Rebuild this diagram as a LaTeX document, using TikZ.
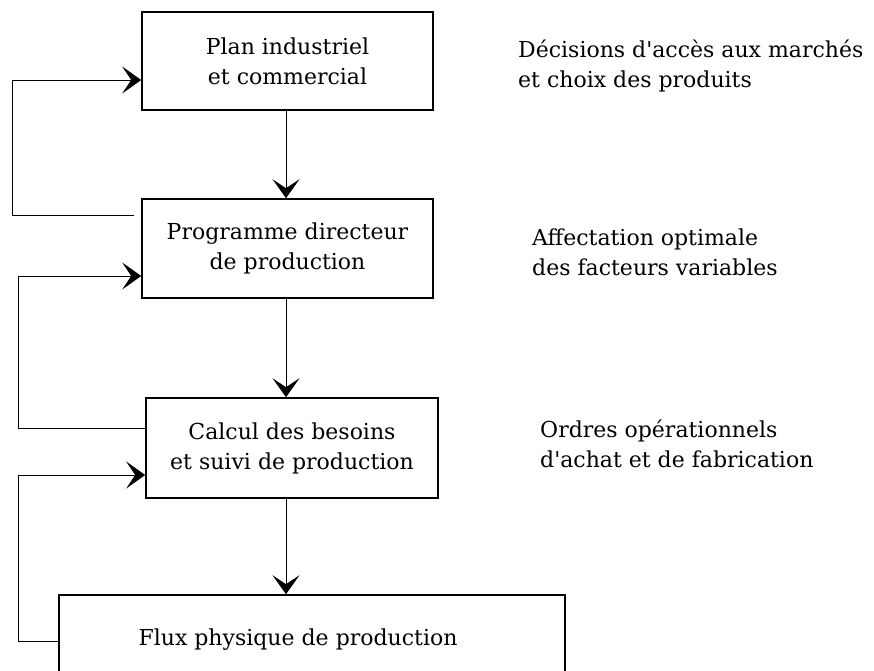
\documentclass[tikz,border=0pt]{standalone}
\usepackage{fontspec}
\setmainfont{DejaVu Serif}[Ligatures=TeXOff]
\usetikzlibrary{arrows.meta}
\begin{document}
\begin{tikzpicture}[x=1pt,y=-1pt,
  txt/.style={font=\fontsize{22}{30}\selectfont},
  box/.style={draw,line width=1.6pt,align=center,inner sep=0pt,txt},
  conn/.style={line width=1pt},
  arr/.style={conn,-{Stealth[length=19pt,width=27pt,inset=9pt]}},
  note/.style={align=left,anchor=base west,inner sep=0pt,txt}]
\useasboundingbox (0,0) rectangle (874,670);
\clip (0,0) rectangle (874,670);
\coordinate (axis) at (286,0);
\coordinate (fbA) at (12,0);
\coordinate (fbB) at (18,0);
\node[box,minimum width=291pt,minimum height=98pt] (b1) at (287.5,61) {Plan industriel\\et commercial};
\node[box,minimum width=291pt,minimum height=99pt] (b2) at (287.5,248.5) {Programme directeur\\de production};
\node[box,minimum width=292pt,minimum height=100pt] (b3) at (292,448) {Calcul des besoins\\et suivi de production};
\node[box,minimum width=506pt,minimum height=90pt] (b4) at (312,640) {\hspace*{-28pt}Flux physique de production};
% right notes (base anchor = last line baseline)
\node[note] (n1) at (518,87) {Décisions d'accès aux marchés\\et choix des produits};
\node[note] (n2) at (532,275) {Affectation optimale\\des facteurs variables};
\node[note] (n3) at (540,467) {Ordres opérationnels\\d'achat et de fabrication};
% main flow
\draw[arr] (b1.south -| axis) -- (b2.north -| axis);
\draw[arr] (b2.south -| axis) -- (b3.north -| axis);
\draw[arr] (b3.south -| axis) -- (b4.north -| axis);
% feedback loops
\draw[arr] ([xshift=-7pt]b2.west |- 0,215) -- (fbA |- 0,215) -- (fbA |- 0,80) -- (b1.west |- 0,80);
\draw[arr] (b3.west |- 0,428) -- (fbB |- 0,428) -- (fbB |- 0,276) -- (b2.west |- 0,276);
\draw[arr] (b4.west |- 0,641) -- (fbB |- 0,641) -- (fbB |- 0,475) -- (b3.west |- 0,475);
\end{tikzpicture}
\end{document}
